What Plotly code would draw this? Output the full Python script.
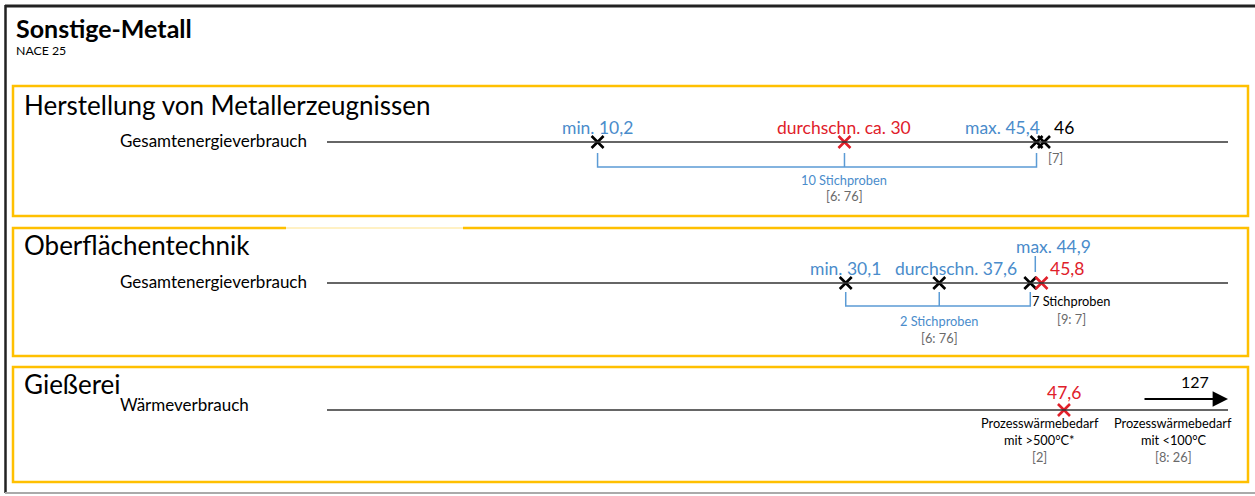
import plotly.graph_objects as go

# ---- data ----
sectors = ["Herstellung von Metallerzeugnissen", "Oberflächentechnik", "Gießerei"]
metrics = ["Gesamtenergieverbrauch", "Gesamtenergieverbrauch", "Wärmeverbrauch"]

# Herstellung von Metallerzeugnissen
p1_min, p1_avg, p1_max = 10.2, 30, 45.4
p1_single = 46
p1_samples, p1_ref, p1_single_ref = 10, "[6: 76]", "[7]"

# Oberflächentechnik
p2_min, p2_avg, p2_max = 30.1, 37.6, 44.9
p2_single = 45.8
p2_samples, p2_ref = 2, "[6: 76]"
p2_single_samples, p2_single_ref = 7, "[9: 7]"

# Gießerei
p3_high = 47.6
p3_high_ref = "[2]"
p3_low = 127
p3_low_ref = "[8: 26]"

# ---- layout constants ----
W, H = 1255, 496
FONT = "Lato, 'Open Sans', sans-serif"
BLUE = "#4a8ccb"
BRACKET = "#5b9bd5"
RED = "#e0202a"
GREY = "#6a6a6a"
YELLOW = "#ffc000"
ROW_Y = [142, 283, 410]
X_RANGE = [-37.72, 62.92]
LINE_X = (327, 1228)
VAL = 17.5   # value label size
SMALL = 12.8


def de(v):
    s = f"{v:.1f}".replace(".", ",")
    return s[:-2] if s.endswith(",0") else s


def px(x):
    return x / W


fig = go.Figure()
shapes = []
ann = []


def text(x, y, t, size=16, color="black", xanchor="center", xref="x", xshift=0, bold=False):
    ann.append(dict(x=x, y=y, xref=xref, yref="y", text=f"<b>{t}</b>" if bold else t,
                    showarrow=False, xanchor=xanchor, yanchor="middle", xshift=xshift,
                    font=dict(family=FONT, size=size, color=color)))


def marker(xs, y, color):
    fig.add_trace(go.Scatter(x=xs, y=[y] * len(xs), mode="markers", hoverinfo="skip",
                             marker=dict(symbol="x-thin", size=12, line=dict(width=2.6, color=color))))


def bracket(x_min, x_mid, x_max, y_top, y_bot):
    shapes.append(dict(type="path", xref="x", yref="y",
                       path=f"M {x_min},{y_top} L {x_min},{y_bot} L {x_max},{y_bot} L {x_max},{y_top}",
                       line=dict(color=BRACKET, width=1.5)))
    shapes.append(dict(type="line", xref="x", yref="y", x0=x_mid, x1=x_mid, y0=y_top, y1=y_bot,
                       line=dict(color=BRACKET, width=1.5)))


# outer frame
shapes.append(dict(type="line", xref="paper", yref="y", x0=px(5.5), x1=px(5.5), y0=5, y1=493,
                   line=dict(color="#222", width=2.5)))
shapes.append(dict(type="line", xref="paper", yref="y", x0=px(5), x1=1, y0=6, y1=6,
                   line=dict(color="#222", width=3)))
shapes.append(dict(type="line", xref="paper", yref="y", x0=px(5), x1=1, y0=493, y1=493,
                   line=dict(color="#aaa", width=2)))

# yellow panels
for y0, y1 in [(86, 216), (228, 356), (367, 482)]:
    shapes.append(dict(type="rect", xref="paper", yref="y", x0=px(13), x1=px(1248), y0=y0, y1=y1,
                       line=dict(color=YELLOW, width=2.5)))
shapes.append(dict(type="line", xref="paper", yref="y", x0=px(286), x1=px(463), y0=228, y1=228,
                   line=dict(color="white", width=4)))
shapes.append(dict(type="line", xref="paper", yref="y", x0=px(286), x1=px(463), y0=228, y1=228,
                   line=dict(color="#ffe38a", width=1)))

# heading
text(px(14), 28, "Sonstige-Metall", size=25, xanchor="left", xref="paper", bold=True)
text(px(14), 50, "NACE 25", size=12.3, xanchor="left", xref="paper")

# rows
title_y = [105, 245, 384]
metric_y = [ROW_Y[0] - 2, ROW_Y[1] - 2, ROW_Y[2] - 6]
for i in range(3):
    text(px(22), title_y[i], sectors[i], size=26, xanchor="left", xref="paper")
    text(px(118), metric_y[i], metrics[i], size=17, xanchor="left", xref="paper")
    shapes.append(dict(type="line", xref="paper", yref="y", x0=px(LINE_X[0]), x1=px(LINE_X[1]),
                       y0=ROW_Y[i], y1=ROW_Y[i], line=dict(color="#333", width=1.5)))

# panel 1
y = ROW_Y[0]
marker([p1_min, p1_max, p1_single], y, "black")
marker([p1_avg], y, RED)
text(p1_min, y - 15, f"min. {de(p1_min)}", size=VAL, color=BLUE)
text(p1_avg, y - 15, f"durchschn. ca. {de(p1_avg)}", size=VAL, color=RED)
text(p1_max, y - 15, f"max. {de(p1_max)}", size=VAL, color=BLUE, xanchor="right", xshift=5)
text(p1_single, y - 15, de(p1_single), size=VAL, color="black", xanchor="left", xshift=8)
text(p1_single, y + 16, p1_single_ref, size=SMALL, color=GREY, xanchor="left", xshift=2)
bracket(p1_min, p1_avg, p1_max, y + 11, y + 25)
text(p1_avg, y + 38, f"{p1_samples} Stichproben", size=SMALL, color=BLUE)
text(p1_avg, y + 54, p1_ref, size=SMALL, color=GREY)

# panel 2
y = ROW_Y[1]
marker([p2_min, p2_avg, p2_max], y, "black")
marker([p2_single], y, RED)
text(p2_min, y - 15, f"min. {de(p2_min)}", size=VAL, color=BLUE)
text(p2_avg, y - 15, f"durchschn. {de(p2_avg)}", size=VAL, color=BLUE, xshift=17)
text(p2_max, y - 37, f"max. {de(p2_max)}", size=VAL, color=BLUE, xanchor="left", xshift=-16)
shapes.append(dict(type="line", xref="x", xsizemode="pixel", xanchor=p2_max, x0=5, x1=5,
                   yref="y", y0=y - 27, y1=y - 11, line=dict(color=BRACKET, width=1.5)))
text(p2_single, y - 15, de(p2_single), size=VAL, color=RED, xanchor="left", xshift=6)
text(p2_single, y + 18, f"{p2_single_samples} Stichproben", size=SMALL, color="black",
     xanchor="left", xshift=-12)
text(p2_single, y + 36, p2_single_ref, size=SMALL, color=GREY, xanchor="left", xshift=13)
bracket(p2_min, p2_avg, p2_max, y + 9, y + 23)
text(p2_avg, y + 38, f"{p2_samples} Stichproben", size=SMALL, color=BLUE)
text(p2_avg, y + 55, p2_ref, size=SMALL, color=GREY)

# panel 3
y = ROW_Y[2]
marker([p3_high], y, RED)
text(p3_high, y - 18, de(p3_high), size=VAL, color=RED)
for k, (t, c) in enumerate([("Prozesswärmebedarf", "black"), ("mit >500°C*", "black"),
                            (p3_high_ref, GREY)]):
    text(p3_high, y + 13 + k * 17, t, size=SMALL, color=c, xshift=-24)
ann.append(dict(x=px(LINE_X[1]), y=y - 11, xref="paper", yref="y", ax=-85, ay=0,
                showarrow=True, arrowhead=2, arrowsize=1.4, arrowwidth=2.2, arrowcolor="black",
                text=""))
text(px(1195), y - 29, str(p3_low), size=16, xref="paper")
for k, (t, c) in enumerate([("Prozesswärmebedarf", "black"), ("mit <100°C", "black"),
                            (p3_low_ref, GREY)]):
    text(px(1173), y + 13 + k * 17, t, size=SMALL, color=c, xref="paper")

fig.update_layout(
    width=W, height=H,
    margin=dict(l=0, r=0, t=0, b=0),
    paper_bgcolor="white", plot_bgcolor="white",
    showlegend=False,
    xaxis=dict(range=X_RANGE, visible=False, fixedrange=True),
    yaxis=dict(range=[H, 0], visible=False, fixedrange=True),
    shapes=shapes, annotations=ann,
)

fig.write_html("out.html", config={"displayModeBar": False},
               post_script="document.body.style.margin='0';document.body.style.overflow='hidden';")
